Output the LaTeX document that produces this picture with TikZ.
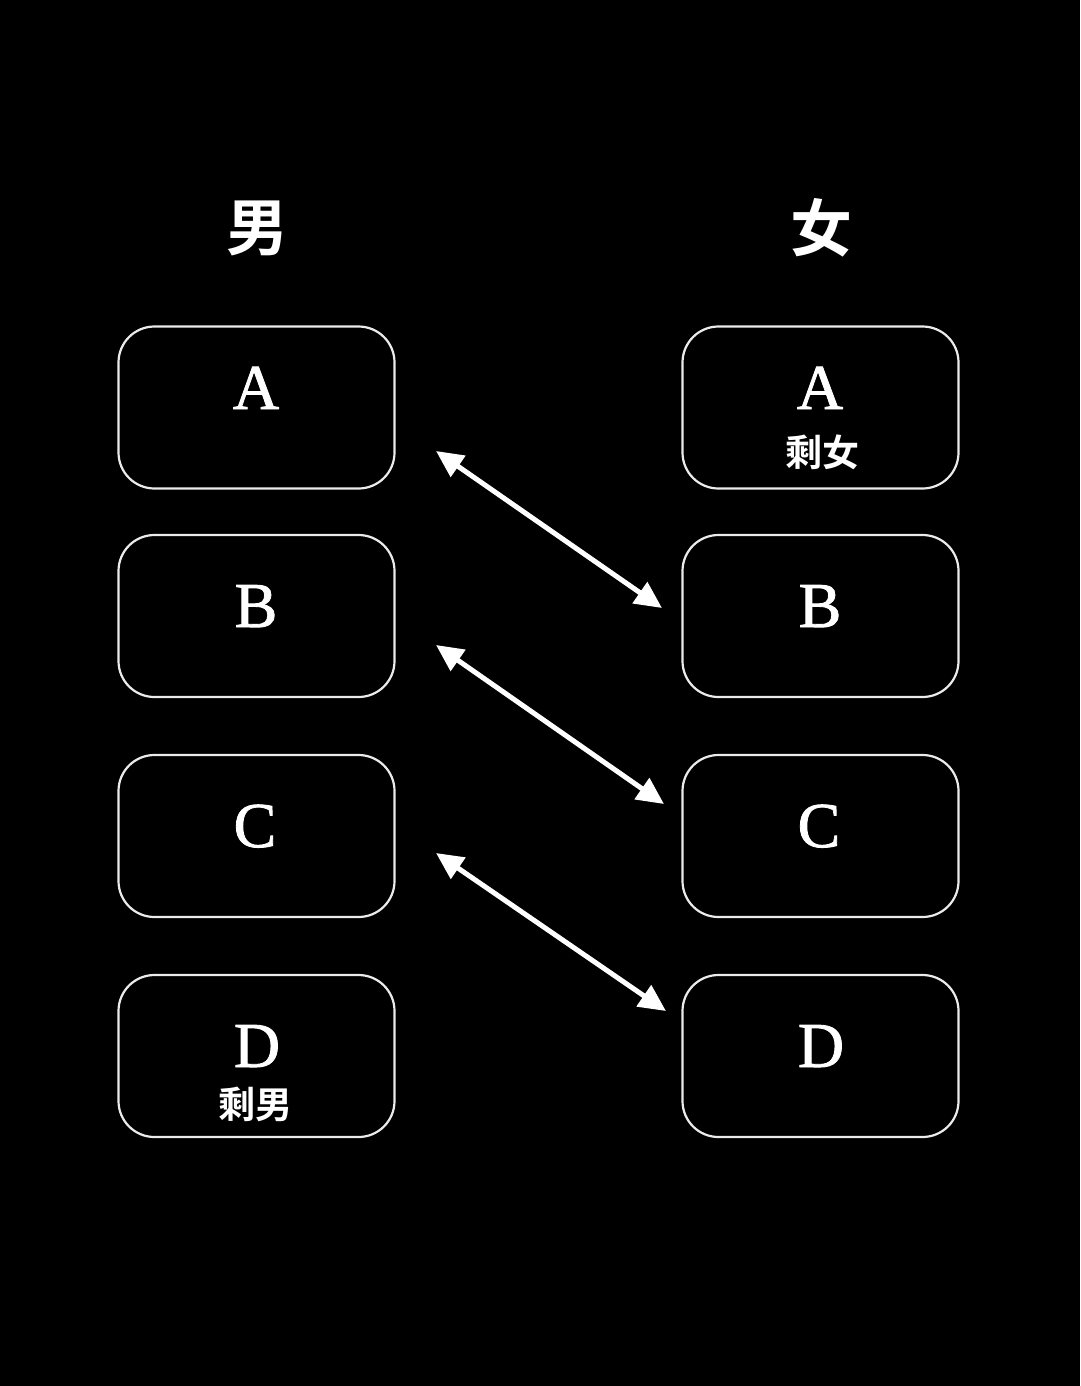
\documentclass[tikz,border=0pt]{standalone}
\usepackage{fontspec}
\setmainfont{Liberation Serif}
\newfontfamily\letterfont{Liberation Serif}[FakeBold=1.3]
\newfontfamily\cjk{Noto Sans CJK SC}[BoldFont={* Bold}]
\usetikzlibrary{arrows.meta}
\begin{document}
\begin{tikzpicture}[x=1pt,y=-1pt,
  boxnode/.style={draw=white!92!black, line width=2.2pt, rounded corners=36pt,
    minimum width=276pt, minimum height=162pt, inner sep=0pt},
  letter/.style={text=white, font=\letterfont\fontsize{64}{64}\selectfont, anchor=base, inner sep=0pt},
  sublab/.style={text=white, font=\cjk\bfseries\fontsize{37}{37}\selectfont, inner sep=0pt},
  title/.style={text=white, font=\cjk\bfseries\fontsize{62}{62}\selectfont, inner sep=0pt},
  link/.style={draw=white, line width=5pt, {Triangle[length=27pt,width=25pt]}-{Triangle[length=27pt,width=25pt]}}
]
\fill[black] (0,0) rectangle (1080,1386);
\useasboundingbox (0,0) rectangle (1080,1386);

\node[title] (tm) at (257,228) {男};
\node[title] (tf) at (821,228) {女};

\node[boxnode] (mA) at (256.5,407.5) {};
\node[boxnode] (mB) at (256.5,616) {};
\node[boxnode] (mC) at (256.5,836) {};
\node[boxnode] (mD) at (256.5,1056) {};
\node[boxnode] (fA) at (820.5,407.5) {};
\node[boxnode] (fB) at (820.5,616) {};
\node[boxnode] (fC) at (820.5,836) {};
\node[boxnode] (fD) at (820.5,1056) {};

\node[letter] (lmA) at (256,409) {A};
\node[letter] (lmB) at (256,627) {B};
\node[letter] (lmC) at (255,847) {C};
\node[letter] (lmD) at (257,1067) {D};
\node[letter] (lfA) at (820,409) {A};
\node[letter] (lfB) at (820,627) {B};
\node[letter] (lfC) at (819,847) {C};
\node[letter] (lfD) at (821,1067) {D};

\node[sublab] (sf) at (822,452) {剩女};
\node[sublab] (sm) at (255,1104) {剩男};

\coordinate (p1) at (436,451);
\coordinate (q1) at (662,608);
\coordinate (p2) at (436,645);
\coordinate (q2) at (664,804);
\coordinate (p3) at (436,853);
\coordinate (q3) at (666,1011);

\draw[link] (p1) -- (q1);
\draw[link] (p2) -- (q2);
\draw[link] (p3) -- (q3);
\end{tikzpicture}
\end{document}
